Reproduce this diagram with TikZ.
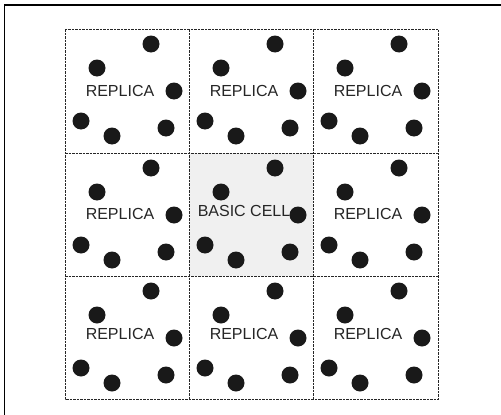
\documentclass[tikz,border=0pt]{standalone}
\usepackage{fontspec}
\setmainfont{Liberation Sans}
\begin{document}
\begin{tikzpicture}[x=1pt,y=-1pt,
  atom/.style={circle,fill=black!90,inner sep=0pt,minimum size=17pt},
  lbl/.style={inner sep=0pt,font=\fontsize{16}{16}\selectfont,text=black!85},
  cellbox/.style={draw=black!85,line width=0.8pt,dash pattern=on 2.5pt off 1pt},
  frame/.style={draw=black,line width=1.6pt}]
\useasboundingbox (0,0) rectangle (501,415);
\fill[white] (0,0) rectangle (501,415);
% outer frame (only top and left visible)
\draw[frame] (4.5,420) -- (4.5,5) -- (505,5);
% basic cell shading
\fill[black!6] (189,153) rectangle (313,276);
% cells
\foreach \cx/\cy [count=\i] in {65/29,189/29,313/29,
    65/153,189/153,313/153,
    65/276,189/276,313/276}{
  \begin{scope}[shift={(\cx,\cy)}]
    \node[atom] (a1-\i) at (86,15) {};
    \node[atom] (a2-\i) at (32,39) {};
    \node[atom] (a3-\i) at (109,62) {};
    \node[atom] (a4-\i) at (16,92) {};
    \node[atom] (a5-\i) at (47,107) {};
    \node[atom] (a6-\i) at (101,99) {};
  \end{scope}
}
\node[lbl] (t1) at (120,91) {REPLICA};
\node[lbl] (t2) at (244,91) {REPLICA};
\node[lbl] (t3) at (368,91) {REPLICA};
\node[lbl] (t4) at (120,214) {REPLICA};
\node[lbl] (t5) at (244,211) {BASIC CELL};
\node[lbl] (t6) at (368,214) {REPLICA};
\node[lbl] (t7) at (120,334) {REPLICA};
\node[lbl] (t8) at (244,334) {REPLICA};
\node[lbl] (t9) at (368,334) {REPLICA};
% grid
\draw[cellbox] (65,29) rectangle (438,399);
\draw[cellbox] (189,29) -- (189,399);
\draw[cellbox] (313,29) -- (313,399);
\draw[cellbox] (65,153) -- (438,153);
\draw[cellbox] (65,276) -- (438,276);
\end{tikzpicture}
\end{document}
